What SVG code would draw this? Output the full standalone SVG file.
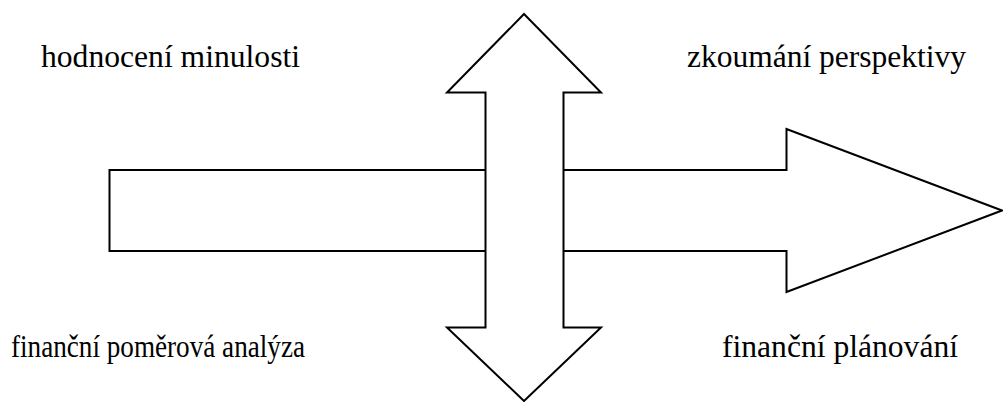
<svg xmlns="http://www.w3.org/2000/svg" width="1003" height="402" viewBox="0 0 1003 402">
<style>
.shape{fill:#ffffff;stroke:#000000;stroke-width:2;stroke-linejoin:miter}
.lbl{font-family:"Times New Roman","Liberation Serif","Tinos","Noto Serif","Nimbus Roman","FreeSerif","DejaVu Serif",serif;font-size:31.5px;fill:#000000}
</style>
<rect x="0" y="0" width="1003" height="402" fill="#ffffff"/>
<g id="connectors">
<polygon id="horizontal-arrow" class="shape" points="109.5,170 786.5,170 786.5,129 1002,210.5 786.5,292 786.5,251 109.5,251"/>
<polygon id="vertical-arrow" class="shape" points="524,14 601,92.5 563.5,92.5 563.5,327.5 601,327.5 524,401 447,327.5 485.5,327.5 485.5,92.5 447,92.5"/>
</g>
<g id="label-past"><text class="lbl" x="41" y="67" textLength="259" lengthAdjust="spacingAndGlyphs">hodnocení minulosti</text></g>
<g id="label-future"><text class="lbl" x="687" y="67" textLength="279" lengthAdjust="spacingAndGlyphs">zkoumání perspektivy</text></g>
<g id="label-ratio"><text class="lbl" x="11" y="357" textLength="294" lengthAdjust="spacingAndGlyphs">finanční poměrová analýza</text></g>
<g id="label-planning"><text class="lbl" x="722" y="357" textLength="236" lengthAdjust="spacingAndGlyphs">finanční plánování</text></g>
</svg>
